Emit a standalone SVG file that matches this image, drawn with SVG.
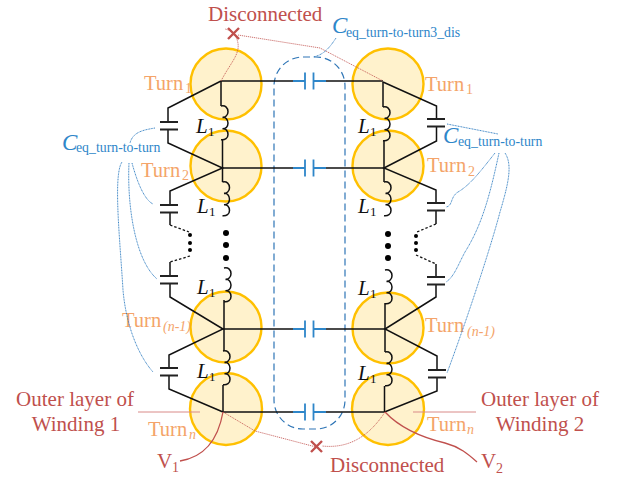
<svg xmlns="http://www.w3.org/2000/svg" xmlns:xlink="http://www.w3.org/1999/xlink" width="622" height="477" viewBox="0 0 622 477">
<style>
text{font-family:"Liberation Serif","Times New Roman",serif}
.turn{fill:#FFF2CC;stroke:#FFC000;stroke-width:2.400}
.tl{fill:#F4A46A;font-size:20.5px}
.ts{fill:#F4A46A;font-size:14px}
.ti{font-style:italic}
.w{fill:none;stroke:#111;stroke-width:1.5}
.wd{fill:none;stroke:#111;stroke-width:1.3;stroke-dasharray:2.5 2}
.b{fill:none;stroke:#2E86C9;stroke-width:1.8}
.p{fill:none;stroke:#222;stroke-width:1.8}
.bl{fill:none;stroke:#2878BE;stroke-width:.9;stroke-dasharray:1 .6}
.rd{fill:none;stroke:#C0504D;stroke-width:.8;stroke-dasharray:1.2 .8}
.rs{fill:none;stroke:#C0504D;stroke-width:1.3}
.rl{fill:none;stroke:#D98A88;stroke-width:1}
.x{fill:none;stroke:#C0504D;stroke-width:2.4}
.red{fill:#C0504D;font-size:21px}
.redm{fill:#C0504D;font-size:21px;text-anchor:middle}
.rsub{fill:#C0504D;font-size:14px}
.L{fill:#111;font-size:21px;font-style:italic}
.Ls{fill:#111;font-size:13px}
.C{fill:#2E86C9;font-size:23px;font-style:italic}
.Cs{fill:#2E86C9;font-size:13.8px}
</style>
<defs>
<path id="coil" class="w" d="M0 0c4.500-1 7 2 7 5.700s-3 5.700-5.500 5.700M1.500 11.400c3-.5 5.500 2 5.500 5.700s-2.500 5.700-5.500 5.700M1.500 22.800c3-.5 5.500 2 5.500 5.700s-3 5.700-7 5.200"/>
<g id="capv"><path class="p" d="M-9 0H9M-9 7.500H9"/></g>
<g id="caph"><path class="b" d="M0-8.500V8.500M8.500-8.500V8.500"/></g>
</defs>

<g id="turn1-left"><circle class="turn" cx="226" cy="84" r="35.500"/><text class="tl" x="144" y="90">Turn</text><text class="ts" x="185" y="93">1</text></g>
<g id="turn2-left"><circle class="turn" cx="226" cy="166" r="35.500"/><text class="tl" x="141" y="177">Turn</text><text class="ts" x="182" y="180">2</text></g>
<g id="turnn1-left"><circle class="turn" cx="226" cy="327" r="35.500"/><text class="tl" x="122" y="327">Turn</text><text class="ts ti" x="163" y="331">(n-1)</text></g>
<g id="turnn-left"><circle class="turn" cx="226" cy="409" r="36"/><text class="tl" x="148" y="436">Turn</text><text class="ts ti" x="189" y="439">n</text></g>
<g id="turn1-right"><circle class="turn" cx="388" cy="84" r="35.500"/><text class="tl" x="425" y="91">Turn</text><text class="ts" x="466" y="94">1</text></g>
<g id="turn2-right"><circle class="turn" cx="388" cy="166" r="35.500"/><text class="tl" x="427" y="172">Turn</text><text class="ts" x="468" y="176">2</text></g>
<g id="turnn1-right"><circle class="turn" cx="388" cy="328" r="35.500"/><text class="tl" x="425" y="332">Turn</text><text class="ts ti" x="467" y="336">(n-1)</text></g>
<g id="turnn-right"><circle class="turn" cx="388" cy="409" r="36"/><text class="tl" x="427" y="431">Turn</text><text class="ts ti" x="467" y="434">n</text></g>

<g id="dis-capacitor"><rect x="274" y="57" width="71" height="372" rx="29" ry="29" fill="none" stroke="#2E75B6" stroke-width="1.200" stroke-dasharray="7 4"/></g>

<g id="connectors">
<path class="w" d="M221 81H293M326 81H383M222.500 168H293M326 168H384M223 329H293M326 329H385M223 412H293M326 412H384.500"/>
<path class="b" d="M293 81H305M313.500 81H326M293 168H305M313.500 168H326M293 329H305M313.500 329H326M293 412H305M313.500 412H326"/>
<use xlink:href="#caph" x="305" y="81"/><use xlink:href="#caph" x="305" y="168"/><use xlink:href="#caph" x="305" y="329"/><use xlink:href="#caph" x="305" y="412"/>

<path class="w" d="M221 81L168 108V122M168 129.500V143L222.500 168L170 191V205M170 212.500V225M170 262V276M170 283.500V297L223 329L169 355V368M169 375.500V389L223 412"/>
<use xlink:href="#capv" x="169" y="122"/><use xlink:href="#capv" x="169" y="205"/><use xlink:href="#capv" x="169" y="276"/><use xlink:href="#capv" x="169" y="368"/>
<path class="wd" d="M170 225L189 232M190 256L170 262"/>
<path class="w" d="M383 82L436.500 106V119M436.500 126.500V141L384 168L436 190V203M436 210.500V224M436 264V277M436 284.500V297L385 329L437 356V370M437 377.500V391L384.500 412"/>
<use xlink:href="#capv" x="436" y="119"/><use xlink:href="#capv" x="436" y="203"/><use xlink:href="#capv" x="436" y="277"/><use xlink:href="#capv" x="437" y="370"/>
<path class="wd" d="M436 224L417 232M416 255L436 264"/>

<path class="w" d="M221 81V106M222.500 140V168V182M224 300V329V351M223 385V412M383 82V107M384 141V168V182M385 303V329V352M384.500 386V412"/>
<use xlink:href="#coil" x="221" y="106"/><use xlink:href="#coil" x="222.500" y="182"/><use xlink:href="#coil" x="224" y="268"/><use xlink:href="#coil" x="223" y="351"/>
<use xlink:href="#coil" x="383" y="107"/><use xlink:href="#coil" x="384" y="182"/><use xlink:href="#coil" x="385" y="270"/><use xlink:href="#coil" x="385" y="352"/>

<g fill="#000">
<circle cx="226" cy="233" r="3"/><circle cx="226" cy="245" r="3"/><circle cx="226" cy="258" r="3"/>
<circle cx="388" cy="234" r="3"/><circle cx="388" cy="246" r="3"/><circle cx="388" cy="258" r="3"/>
<circle cx="190" cy="235" r="2"/><circle cx="190" cy="243" r="2"/><circle cx="190" cy="250" r="2"/>
<circle cx="416" cy="236" r="2"/><circle cx="416" cy="243" r="2"/><circle cx="416" cy="250" r="2"/>
</g>

<path class="rd" d="M221 81C232 60 243 52 236 37C234 32 229 30 225 29"/>
<path class="rd" d="M238 35L320 48L383 81"/>
<path class="rd" d="M223 412L255 431L316 447"/>
<path class="rd" d="M385 412C370 435 350 449 322 446"/>
<path class="rs" d="M223 412C218 440 205 457 180 461"/>
<path class="rs" d="M385 412C400 428 420 437 445 443C460 447 468 454 477 462"/>
<path class="rl" d="M138 412H200M413 412H476"/>
<path class="x" d="M228 28L239 39M239 28L228 39M311 441L322 452M322 441L311 452"/>

<path class="bl" d="M336 38C330 47 324 55 313 57"/>
<path class="bl" d="M155 128C143 130 133 132 130 143"/>
<path class="bl" d="M132 163C138 185 145 200 153 204"/>
<path class="bl" d="M129 163C127 205 135 260 157 279"/>
<path class="bl" d="M122 162C113 175 120 240 123 290C126 325 138 355 153 372"/>
<path class="bl" d="M447 124L498 134"/>
<path class="bl" d="M495 153C480 172 470 185 458 192C450 197 453 206 446 207"/>
<path class="bl" d="M499 153C490 195 482 225 465 252C458 265 454 277 446 282"/>
<path class="bl" d="M505 153C513 165 508 185 500 212C490 250 465 325 447 373"/>
</g>

<g id="labels">
<text class="L" x="196" y="133">L</text><text class="Ls" x="208" y="136">1</text>
<text class="L" x="197" y="213">L</text><text class="Ls" x="209" y="216">1</text>
<text class="L" x="197" y="294">L</text><text class="Ls" x="209" y="297">1</text>
<text class="L" x="197" y="378">L</text><text class="Ls" x="209" y="381">1</text>
<text class="L" x="358" y="133">L</text><text class="Ls" x="370" y="136">1</text>
<text class="L" x="358" y="213">L</text><text class="Ls" x="370" y="216">1</text>
<text class="L" x="358" y="295">L</text><text class="Ls" x="370" y="298">1</text>
<text class="L" x="358" y="380">L</text><text class="Ls" x="370" y="383">1</text>

<text class="C" x="62" y="150">C</text><text class="Cs" x="76" y="152">eq_turn-to-turn</text>
<text class="C" x="443" y="143">C</text><text class="Cs" x="458" y="146">eq_turn-to-turn</text>
<text class="C" x="332" y="33">C</text><text class="Cs" x="346" y="37">eq_turn-to-turn3_dis</text>

<text class="red" x="208" y="21">Disconnected</text>
<text class="red" x="330" y="472">Disconnected</text>
<text class="redm" x="75" y="406">Outer layer of</text>
<text class="redm" x="76" y="431">Winding 1</text>
<text class="redm" x="540" y="406">Outer layer of</text>
<text class="redm" x="540" y="431">Winding 2</text>
<text class="red" x="157" y="468">V</text><text class="rsub" x="172" y="472">1</text>
<text class="red" x="481" y="468">V</text><text class="rsub" x="496" y="473">2</text>
</g>
</svg>
